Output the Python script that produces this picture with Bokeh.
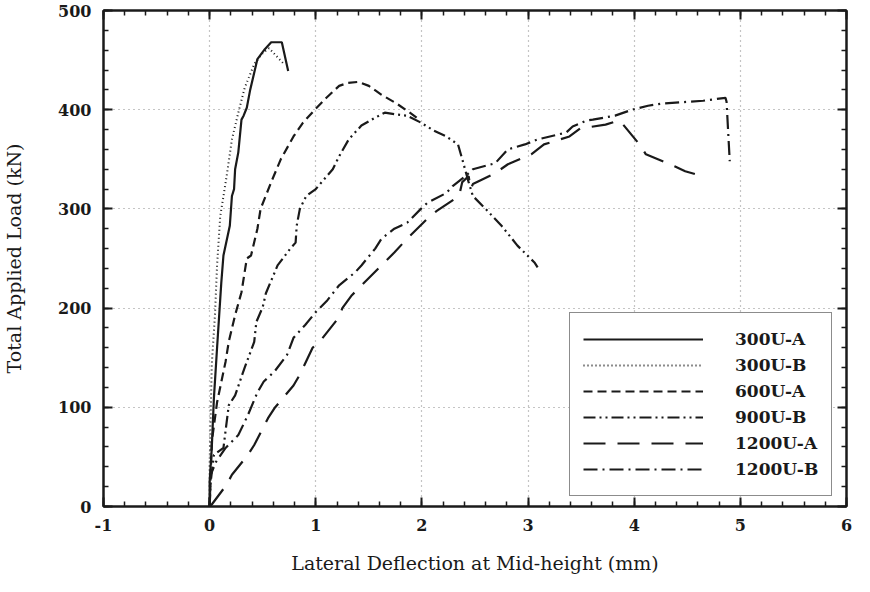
from bokeh.plotting import figure
from bokeh.models import Legend, LegendItem, LinearAxis, Range1d, SingleIntervalTicker
from bokeh.embed import file_html
from bokeh.resources import INLINE

# ---- data ----
series_names = ["300U-A", "300U-B", "600U-A", "900U-B", "1200U-A", "1200U-B"]

x_300UA = [0, 0.0, 0.02, 0.04, 0.07, 0.11, 0.13, 0.19, 0.21, 0.23, 0.24, 0.27, 0.30, 0.32, 0.35, 0.38, 0.45, 0.52, 0.58, 0.68, 0.74]
y_300UA = [0, 25, 59, 109, 160, 226, 253, 283, 313, 320, 340, 357, 390, 394, 402, 419, 451, 461, 468, 468, 439]

x_300UB = [0, 0.0, 0.01, 0.02, 0.05, 0.07, 0.10, 0.12, 0.16, 0.21, 0.27, 0.33, 0.42, 0.50, 0.56, 0.63, 0.70]
y_300UB = [0, 42, 92, 143, 193, 243, 293, 306, 333, 370, 397, 422, 446, 457, 462, 454, 446]

x_600UA = [0, 0.01, 0.02, 0.07, 0.15, 0.18, 0.24, 0.30, 0.35, 0.39, 0.45, 0.48, 0.58, 0.67, 0.79, 0.88, 1.00, 1.10, 1.22, 1.30, 1.40, 1.50, 1.62, 1.75, 1.86, 1.95]
y_600UA = [0, 32, 65, 105, 146, 166, 193, 216, 250, 253, 280, 300, 327, 350, 373, 387, 401, 412, 424, 427, 428, 424, 415, 407, 399, 392]

x_900UB = [0, 0.01, 0.04, 0.13, 0.18, 0.24, 0.33, 0.42, 0.44, 0.50, 0.53, 0.64, 0.76, 0.81, 0.82, 0.85, 0.91, 1.00, 1.16, 1.22, 1.31, 1.43, 1.56, 1.65, 1.77, 1.86, 1.99, 2.11, 2.23, 2.34, 2.38, 2.44, 2.48, 2.60, 2.75, 2.90, 3.06, 3.09]
y_900UB = [0, 25, 52, 59, 102, 112, 140, 166, 186, 201, 215, 243, 260, 266, 283, 300, 313, 320, 340, 353, 370, 384, 392, 397, 395, 394, 387, 379, 373, 365, 350, 327, 313, 300, 283, 263, 246, 241]

x_1200UA = [0, 0.02, 0.16, 0.21, 0.36, 0.42, 0.55, 0.61, 0.79, 0.85, 0.97, 1.05, 1.22, 1.25, 1.34, 1.46, 1.59, 1.74, 1.86, 2.05, 2.14, 2.35, 2.38, 2.44, 2.46, 2.48, 2.69, 2.81, 3.03, 3.15, 3.39, 3.49, 3.73, 3.85, 3.88, 4.05, 4.11, 4.38, 4.48, 4.64]
y_1200UA = [0, 2, 22, 32, 52, 62, 89, 99, 122, 133, 160, 168, 191, 200, 213, 226, 240, 256, 270, 290, 298, 313, 327, 333, 320, 325, 336, 345, 355, 365, 373, 381, 385, 389, 387, 365, 355, 343, 338, 333]

x_1200UB = [0, 0.01, 0.06, 0.15, 0.27, 0.36, 0.45, 0.51, 0.61, 0.73, 0.79, 0.90, 1.00, 1.11, 1.22, 1.37, 1.43, 1.56, 1.62, 1.74, 1.86, 1.99, 2.05, 2.23, 2.29, 2.41, 2.48, 2.69, 2.81, 2.97, 3.09, 3.36, 3.42, 3.55, 3.61, 3.82, 3.98, 4.13, 4.25, 4.65, 4.86, 4.87, 4.90]
y_1200UB = [0, 32, 45, 59, 72, 92, 115, 126, 136, 153, 170, 183, 196, 208, 223, 236, 243, 260, 270, 280, 286, 300, 306, 316, 323, 333, 340, 346, 360, 365, 370, 377, 383, 389, 390, 394, 400, 404, 406, 409, 412, 408, 348]

x_range_vals = (-1, 6)
y_range_vals = (0, 500)
x_tick_labels = {-1: "-1", 0: "0", 1: "1", 2: "2", 3: "3", 4: "4", 5: "5", 6: "6"}

FONT = "DejaVu Serif"
INK = "#1a1a1a"

p = figure(width=854, height=576,
           x_range=Range1d(*x_range_vals), y_range=Range1d(*y_range_vals),
           output_backend="svg", toolbar_location=None,
           min_border_left=92, min_border_right=8, min_border_top=10, min_border_bottom=68,
           x_axis_label="Lateral Deflection at Mid-height (mm)",
           y_axis_label="Total Applied Load (kN)")

xt = SingleIntervalTicker(interval=1, num_minor_ticks=5)
yt = SingleIntervalTicker(interval=100, num_minor_ticks=5)
p.xaxis.ticker = xt
p.yaxis.ticker = yt
p.xgrid.ticker = xt
p.ygrid.ticker = yt

p.outline_line_color = INK
p.outline_line_width = 2
p.background_fill_color = "white"
p.border_fill_color = "white"

for g in (p.xgrid, p.ygrid):
    g.grid_line_color = "#8a8a8a"
    g.grid_line_dash = "1 4"
    g.grid_line_width = 1.2

def style_axis(ax, labels=True):
    ax.axis_line_color = INK
    ax.axis_line_width = 2
    ax.major_tick_in = 9
    ax.major_tick_out = 0
    ax.minor_tick_in = 5
    ax.minor_tick_out = 0
    ax.major_tick_line_color = INK
    ax.major_tick_line_width = 2
    ax.minor_tick_line_color = INK
    ax.minor_tick_line_width = 1.5
    ax.major_label_text_font = FONT
    ax.major_label_text_font_style = "bold"
    ax.major_label_text_color = INK
    ax.major_label_text_font_size = "16px"
    ax.axis_label_text_font = FONT
    ax.axis_label_text_font_style = "normal"
    ax.axis_label_text_font_size = "19px"
    ax.axis_label_text_color = INK
    if not labels:
        ax.major_label_text_font_size = "1px"
        ax.major_label_text_color = None
        ax.major_label_standoff = 0

for ax in p.xaxis:
    style_axis(ax)
    ax.major_label_standoff = 12
    ax.axis_label_standoff = 18
    ax.major_label_overrides = x_tick_labels
for ax in p.yaxis:
    style_axis(ax)
    ax.major_label_standoff = 12
    ax.axis_label_standoff = 30

top_ax = LinearAxis(ticker=xt)
style_axis(top_ax, labels=False)
p.add_layout(top_ax, "above")
right_ax = LinearAxis(ticker=yt)
style_axis(right_ax, labels=False)
p.add_layout(right_ax, "right")

styles = [
    (x_300UA, y_300UA, "solid", 2.2),
    (x_300UB, y_300UB, "1 3", 2.0),
    (x_600UA, y_600UA, "9 5", 2.2),
    (x_900UB, y_900UB, "12 4 2 4 2 4", 2.2),
    (x_1200UA, y_1200UA, "22 12", 2.2),
    (x_1200UB, y_1200UB, "14 5 2 5", 2.2),
]

items = []
for name, (xs, ys, dash, w) in zip(series_names, styles):
    r = p.line(xs, ys, line_color=INK, line_width=w, line_dash=dash)
    items.append(LegendItem(label=name, renderers=[r]))

legend = Legend(items=items, location=(466, 10),
                glyph_width=120, glyph_height=26, label_height=26,
                label_standoff=32, spacing=0, padding=13, margin=0,
                label_text_font=FONT, label_text_font_style="bold",
                label_text_font_size="17px", label_text_color=INK,
                border_line_color=INK, border_line_width=1.5,
                background_fill_color="white", background_fill_alpha=1.0)
p.add_layout(legend, "center")

open("out.html", "w").write(file_html(p, INLINE))
